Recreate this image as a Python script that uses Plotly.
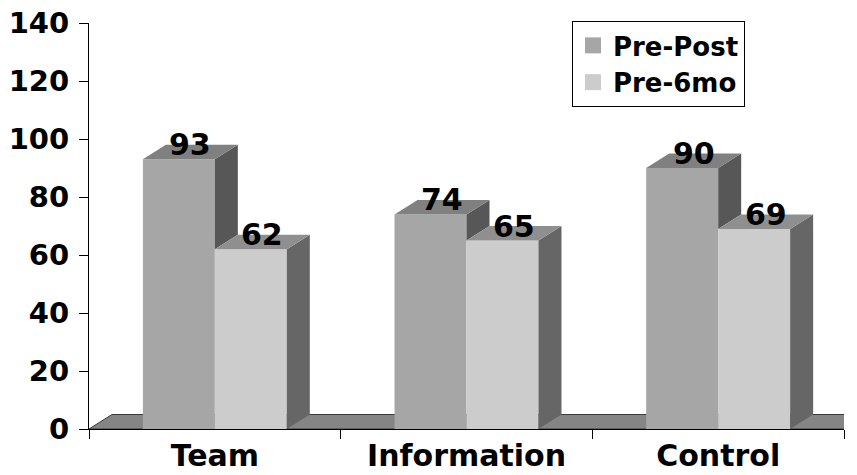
import plotly.graph_objects as go

# ---- data ----
categories = ["Team", "Information", "Control"]
series_names = ["Pre-Post", "Pre-6mo"]
pre_post = [93, 74, 90]
pre_6mo = [62, 65, 69]
y_tick_values = [0, 20, 40, 60, 80, 100, 120, 140]

# ---- style ----
FONT = "DejaVu Sans"
BAR_W = 0.286      # bar width in category units
DX = 0.0914        # 3D depth offset (x, category units)
DY = 5.0           # 3D depth offset (y, value units)
front_col = ["#A6A6A6", "#CCCCCC"]
top_col = ["#808080", "#8F8F8F"]
side_col = ["#575757", "#666666"]

xs = list(range(len(categories)))
series = [pre_post, pre_6mo]
offsets = [-BAR_W, 0.0]

fig = go.Figure()
for name, vals, off, col in zip(series_names, series, offsets, front_col):
    fig.add_trace(go.Bar(
        x=xs, y=vals, name=name, width=BAR_W, offset=off,
        marker=dict(color=col, line=dict(width=0)),
        hoverinfo="skip", showlegend=False,
    ))
# legend entries (larger square swatches)
for name, col in zip(series_names, front_col):
    fig.add_trace(go.Scatter(
        x=[None], y=[None], mode="markers", name=name,
        marker=dict(symbol="square", size=16, color=col, line=dict(width=0)),
    ))


def poly(pts):
    return "M " + " L ".join(f"{x},{y}" for x, y in pts) + " Z"


shapes = []
# floor
x_lo, x_hi = -0.5, len(categories) - 0.5
shapes.append(dict(type="path", xref="x", yref="y", layer="below",
                   path=poly([(x_lo, 0), (x_hi, 0), (x_hi + DX, DY), (x_lo + DX, DY)]),
                   fillcolor="#858585", line=dict(color="#3a3a3a", width=1)))

annotations = []
for i, xc in enumerate(xs):
    v0, v1 = pre_post[i], pre_6mo[i]
    a0, a1 = xc + offsets[0], xc + offsets[0] + BAR_W
    b0, b1 = xc + offsets[1], xc + offsets[1] + BAR_W
    if v0 > v1:
        shapes.append(dict(type="path", xref="x", yref="y", layer="above",
                           path=poly([(a1, v1), (a1 + DX, v1 + DY), (a1 + DX, v0 + DY), (a1, v0)]),
                           fillcolor=side_col[0], line=dict(width=0)))
    shapes.append(dict(type="path", xref="x", yref="y", layer="above",
                       path=poly([(a0, v0), (a1, v0), (a1 + DX, v0 + DY), (a0 + DX, v0 + DY)]),
                       fillcolor=top_col[0], line=dict(width=0)))
    shapes.append(dict(type="path", xref="x", yref="y", layer="above",
                       path=poly([(b1, 0), (b1 + DX, DY), (b1 + DX, v1 + DY), (b1, v1)]),
                       fillcolor=side_col[1], line=dict(width=0)))
    shapes.append(dict(type="path", xref="x", yref="y", layer="above",
                       path=poly([(b0, v1), (b1, v1), (b1 + DX, v1 + DY), (b0 + DX, v1 + DY)]),
                       fillcolor=top_col[1], line=dict(width=0)))
    for (s0, s1), v in (((a0, a1), v0), ((b0, b1), v1)):
        annotations.append(dict(
            x=(s0 + s1) / 2 + DX / 2, y=v + DY, xref="x", yref="y",
            text=str(v), showarrow=False, yanchor="middle", xanchor="center",
            font=dict(family=FONT, size=30, color="black", weight="bold")))

fig.update_layout(
    width=857, height=475,
    margin=dict(l=89, r=13, t=23, b=46),
    paper_bgcolor="white", plot_bgcolor="white",
    showlegend=True,
    shapes=shapes, annotations=annotations,
    legend=dict(x=0.6397, y=1.005, xanchor="left", yanchor="top",
                bordercolor="black", borderwidth=1, bgcolor="white",
                font=dict(family=FONT, size=26, color="black", weight="bold"),
                traceorder="normal"),
    xaxis=dict(range=[x_lo, x_hi], tickmode="array", tickvals=xs, ticktext=categories,
               ticks="", showgrid=False, zeroline=False, automargin=False,
               showline=True, linecolor="black", linewidth=1,
               ticklabelstandoff=0,
               tickfont=dict(family=FONT, size=30, color="black", weight="bold"),
               minor=dict(tickmode="array", tickvals=[x_lo + k for k in range(len(categories) + 1)],
                          ticks="outside", ticklen=9, tickcolor="black", tickwidth=1,
                          showgrid=False)),
    yaxis=dict(range=[0, 140], tickmode="array", tickvals=y_tick_values,
               ticks="outside", ticklen=9, tickcolor="black",
               showgrid=False, zeroline=False, automargin=False,
               showline=True, linecolor="black", linewidth=1,
               ticklabelstandoff=4,
               tickfont=dict(family=FONT, size=29, color="black", weight="bold")),
)

fig.write_html("out.html")
